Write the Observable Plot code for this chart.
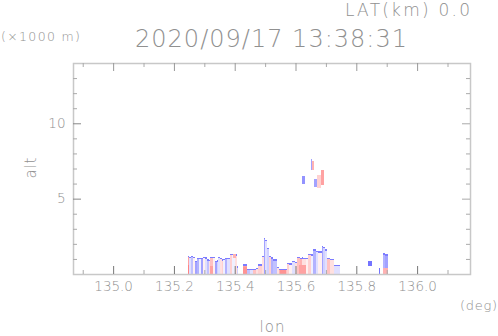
<!DOCTYPE html>
<html><head><meta charset="utf-8">
<script src="https://cdn.jsdelivr.net/npm/d3@7"></script>
<script src="https://cdn.jsdelivr.net/npm/@observablehq/plot@0.6"></script>
<style>body{margin:0;background:#fff;overflow:hidden}</style>
</head><body><div id="chart"></div>
<script>
// tick values
const xTicksMajor = [135.0, 135.2, 135.4, 135.6, 135.8, 136.0];
const xTicksMinor = [134.9, 135.1, 135.3, 135.5, 135.7, 135.9, 136.1];
const yTicksMajor = [5, 10];
const yTicksMinor = [1, 2, 3, 4, 6, 7, 8, 9, 11, 12, 13];

// ground-based echo columns (lon range, echo top in km, velocity -1..1)
const colLon0 = [135.245,135.250,135.255,135.262,135.270,135.276,135.283,135.290,135.297,135.303,135.308,135.314,135.319,135.327,135.336,135.341,135.346,135.352,135.357,135.362,135.368,135.375,135.385,135.392,135.400,135.407,
                 135.428,135.441,135.451,135.460,135.470,135.478,135.489,135.497,135.501,135.505,135.512,135.519,135.527,135.538,135.545,135.558,135.571,135.580,135.588,135.597,
                 135.605,135.615,135.620,135.626,135.634,135.642,135.650,135.659,135.667,135.675,135.686,135.692,135.697,135.703,135.714,135.725,135.888,135.896];
const colLon1 = [135.250,135.255,135.262,135.270,135.276,135.283,135.290,135.297,135.303,135.308,135.314,135.319,135.327,135.336,135.341,135.346,135.352,135.357,135.362,135.368,135.375,135.385,135.392,135.400,135.407,135.412,
                 135.441,135.451,135.460,135.470,135.478,135.489,135.497,135.501,135.505,135.512,135.519,135.527,135.538,135.545,135.558,135.571,135.580,135.588,135.597,135.605,
                 135.615,135.620,135.626,135.634,135.642,135.650,135.659,135.667,135.675,135.686,135.692,135.697,135.703,135.714,135.725,135.747,135.896,135.905];
const colTop  = [1.19,1.15,1.19,1.12,0.86,1.08,1.05,1.08,1.12,1.10,0.97,0.93,1.15,1.12,0.86,0.90,1.12,1.08,0.97,1.00,1.08,1.05,1.35,1.35,1.30,0.50,
                 0.64,0.35,0.35,0.35,0.40,0.64,1.19,2.40,2.25,1.75,1.20,1.10,0.97,0.45,0.35,0.35,0.75,0.70,0.86,0.80,
                 1.15,1.08,1.10,1.08,1.05,1.35,1.30,1.63,1.55,1.50,1.85,1.80,1.63,1.08,1.00,0.59,1.37,1.30];
const colVel  = [0.6,-0.2,-0.4,0.1,-0.6,-0.5,-0.1,-0.6,0.1,-0.2,-0.4,0.2,0.4,0.1,-0.6,-0.3,-0.2,0.2,0.3,-0.1,-0.5,-0.2,0.3,-0.1,0.2,-0.3,
                 0.6,-0.4,-0.2,0.4,0.2,0.3,0.2,-0.6,-0.2,-0.3,0.3,-0.5,-0.4,0.2,0.5,0.4,0.3,0.1,-0.2,0.2,
                 0.4,0.5,0.2,0.2,0.1,0.3,-0.1,-0.5,-0.2,0.1,-0.6,-0.3,-0.2,0.4,0.2,-0.2,-0.5,-0.6];

// extra echo cells (floating echoes and coloured bases)
const cellLon0 = [135.840,135.875,135.888,135.621,135.650,135.655,135.662,135.672,135.683,135.245,135.428,135.550,135.612,135.318,135.395];
const cellLon1 = [135.852,135.878,135.905,135.632,135.655,135.662,135.672,135.683,135.695,135.250,135.440,135.570,135.635,135.330,135.405];
const cellAlt0 = [0.50,0.00,0.00,5.95,6.90,6.90,5.80,5.70,5.90,0.00,0.00,0.00,0.00,0.00,1.05];
const cellAlt1 = [0.85,0.40,0.40,6.50,7.60,7.50,6.30,6.60,6.90,0.60,0.45,0.25,0.60,0.50,1.30];
const cellVel  = [-0.9,-0.9,0.5,-0.7,-0.6,0.5,-0.6,0.3,0.6,0.8,0.7,0.7,0.6,0.6,0.5];

const columns = colLon0.map((d, i) => ({x1: d, x2: colLon1[i], y1: 0, y2: colTop[i], v: colVel[i]}));
const cells = cellLon0.map((d, i) => ({x1: d, x2: cellLon1[i], y1: cellAlt0[i], y2: cellAlt1[i], v: cellVel[i]}));

const svg = Plot.plot({
  width: 498, height: 336,
  marginLeft: 73, marginRight: 28, marginTop: 63, marginBottom: 62,
  x: {domain: [134.868, 136.174]},
  y: {domain: [0, 14]},
  color: {type: "linear", domain: [-1, 0, 1], range: ["#6464ff", "#ffffff", "#ff6464"]},
  style: {fontFamily: "DejaVu Sans", fontWeight: 200, color: "#909090", background: "#fff"},
  marks: [
    Plot.rect(columns, {x1: "x1", x2: "x2", y1: "y1", y2: "y2", fill: "v", shapeRendering: "crispEdges"}),
    Plot.rect(columns, {x1: "x1", x2: "x2", y1: d => d.y2 - 0.08, y2: "y2", fill: "#7c7cff", shapeRendering: "crispEdges"}),
    Plot.rect(cells, {x1: "x1", x2: "x2", y1: "y1", y2: "y2", fill: "v", shapeRendering: "crispEdges"}),
    Plot.frame({stroke: "#c8c8c8", strokeWidth: 1.5}),
    // bottom ticks
    Plot.ruleX(xTicksMajor, {x: d => d, insetTop: 203, stroke: "#777"}),
    Plot.ruleX(xTicksMinor, {x: d => d, insetTop: 207, stroke: "#aaa"}),
    // top ticks
    Plot.ruleX(xTicksMajor, {x: d => d, insetBottom: 203, stroke: "#999"}),
    Plot.ruleX(xTicksMinor, {x: d => d, insetBottom: 207, stroke: "#aaa"}),
    // left ticks
    Plot.ruleY(yTicksMajor, {y: d => d, insetRight: 389, stroke: "#888"}),
    Plot.ruleY(yTicksMinor, {y: d => d, insetRight: 393, stroke: "#aaa"}),
    // right ticks
    Plot.ruleY(yTicksMajor, {y: d => d, insetLeft: 389, stroke: "#aaa"}),
    Plot.ruleY(yTicksMinor, {y: d => d, insetLeft: 393, stroke: "#aaa"}),
    Plot.axisX(xTicksMajor, {tickSize: 0, tickPadding: 7, tickFormat: d => d.toFixed(1), fontSize: 13.5, label: null}),
    Plot.axisY(yTicksMajor, {tickSize: 0, tickPadding: 8, fontSize: 13.5, label: null})
  ]
});

const s = d3.select(svg);
function addText(t, x, y, size, len, anchor, transform) {
  const e = s.append("text").text(t)
    .attr("x", x).attr("y", y)
    .attr("font-family", "DejaVu Sans").attr("font-weight", 200).attr("font-size", size)
    .attr("fill", "#909090").attr("text-anchor", anchor);
  if (len) e.attr("textLength", len).attr("lengthAdjust", "spacing");
  if (transform) e.attr("transform", transform);
  return e;
}
addText("LAT(km) 0.0", 345, 16, 17, 125, "start");
addText("(×1000 m)", 1, 41, 12.5, 79, "start");
addText("2020/09/17 13:38:31", 271, 47, 24, 272, "middle");
addText("alt", 0, 0, 15, 21, "middle", "translate(36,168) rotate(-90)");
addText("lon", 272, 332, 15, 25, "middle");
addText("(deg)", 497, 310, 13, 37, "end");

document.getElementById("chart").appendChild(svg);
</script>
</body></html>
